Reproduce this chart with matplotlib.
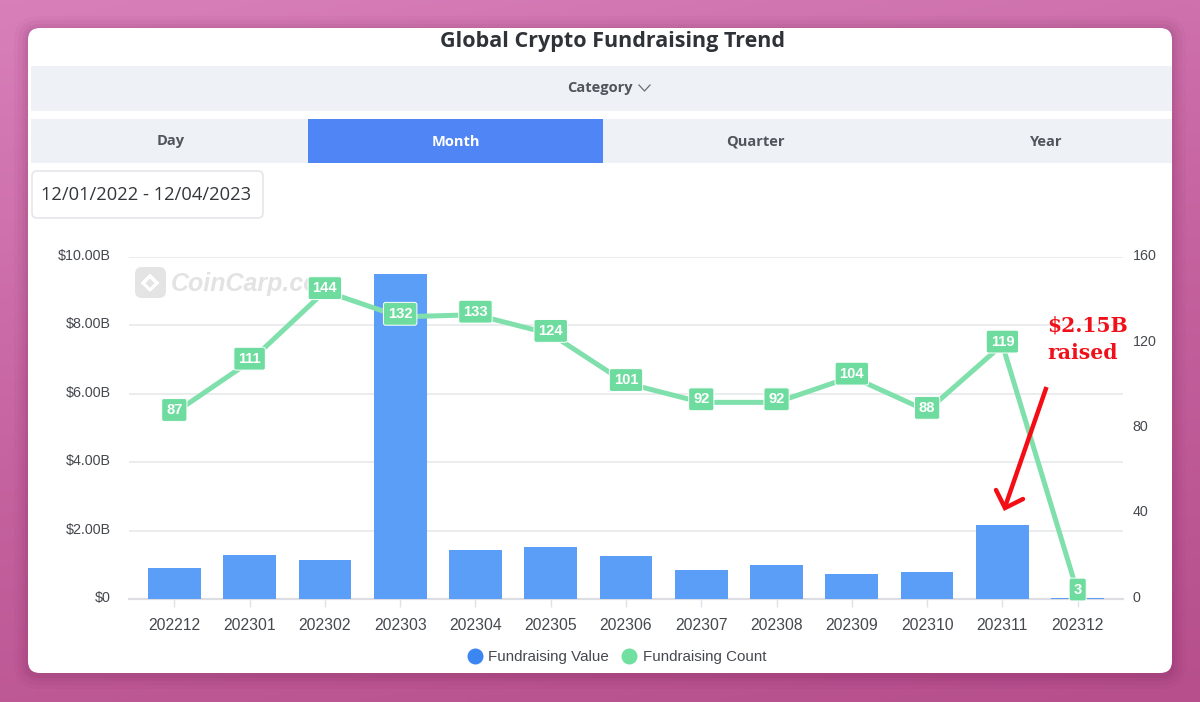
import numpy as np
import matplotlib
matplotlib.use("Agg")
import matplotlib.pyplot as plt
from matplotlib.colors import LinearSegmentedColormap
from matplotlib.lines import Line2D
from matplotlib.patches import FancyBboxPatch, Rectangle
from matplotlib.transforms import ScaledTranslation

months = ["202212", "202301", "202302", "202303", "202304", "202305", "202306",
          "202307", "202308", "202309", "202310", "202311", "202312"]
fund_value = [0.91, 1.29, 1.14, 9.49, 1.43, 1.52, 1.26, 0.85, 0.99, 0.73, 0.79, 2.15, 0.03]
fund_count = [87, 111, 144, 132, 133, 124, 101, 92, 92, 104, 88, 119, 3]
value_ticks = [0, 2, 4, 6, 8, 10]
value_labels = ["$0", "$2.00B", "$4.00B", "$6.00B", "$8.00B", "$10.00B"]
count_ticks = [0, 40, 80, 120, 160]
tabs = ["Day", "Month", "Quarter", "Year"]

W, H = 1200, 702
UI_FONT = ["Open Sans", "DejaVu Sans"]
plt.rcParams["font.family"] = ["Liberation Sans", "DejaVu Sans"]

fig = plt.figure(figsize=(W / 100, H / 100), dpi=100)

# page background and card, in pixel coordinates
bg = fig.add_axes([0, 0, 1, 1], zorder=0)
bg.set_xlim(0, W)
bg.set_ylim(H, 0)
bg.axis("off")

yy, xx = np.mgrid[0:1:200j, 0:1:200j]
grad = 0.75 * yy + 0.25 * xx
pink = LinearSegmentedColormap.from_list("pink_bg", ["#d87fba", "#c5639f", "#b64f8c"])
bg.imshow(grad, extent=[0, W, H, 0], cmap=pink, aspect="auto", zorder=0)
bg.set_xlim(0, W)
bg.set_ylim(H, 0)


def round_box(x0, y0, x1, y1, r, **kw):
    box = FancyBboxPatch((x0 + r, y0 + r), x1 - x0 - 2 * r, y1 - y0 - 2 * r,
                         boxstyle=f"round,pad={r},rounding_size={r}", **kw)
    bg.add_patch(box)


# soft shadow round the card
for grow, alpha in [(14, 0.03), (10, 0.04), (6, 0.05), (3, 0.06)]:
    round_box(28 - grow, 28 - grow + 2, 1172 + grow, 673 + grow + 2, 12 + grow,
              facecolor="#601040", edgecolor="none", alpha=alpha, zorder=1)
round_box(28, 28, 1172, 673, 12, facecolor="white", edgecolor="none", zorder=2)

bg.text(613, 41, "Global Crypto Fundraising Trend", ha="center", va="center",
        fontsize=15.5, fontweight="bold", color="#2f3237", family=UI_FONT, zorder=5)

bg.add_patch(Rectangle((31, 66), 1141, 45, facecolor="#eef1f6", edgecolor="none", zorder=3))
bg.text(600, 88, "Category", ha="center", va="center", fontsize=10.5, fontweight="bold",
        color="#50545b", family=UI_FONT, zorder=5)
bg.plot([639, 644.5, 650], [85, 91, 85], color="#6a6e75", lw=0.9, zorder=5)

bg.add_patch(Rectangle((31, 119), 1141, 44, facecolor="#eef1f6", edgecolor="none", zorder=3))
bg.add_patch(Rectangle((308, 119), 295, 44, facecolor="#4f85f5", edgecolor="none", zorder=4))
for name, cx in zip(tabs, [171, 456, 755, 1046]):
    bg.text(cx, 140, name, ha="center", va="center_baseline", fontsize=10.5, fontweight="bold",
            color="white" if name == "Month" else "#50545b", family=UI_FONT, zorder=5)

round_box(32, 171, 263, 218, 5, facecolor="white", edgecolor="#e4e6ea", lw=1.2, zorder=3)
bg.text(41, 195, "12/01/2022 - 12/04/2023", ha="left", va="center", fontsize=13.2,
        color="#33363b", family=UI_FONT, zorder=5)

# watermark
round_box(135, 267, 166, 298, 7, facecolor="#e4e4e4", edgecolor="none", zorder=3)
bg.plot([143, 150, 143, 150, 157, 150, 157], [283, 276, 283, 290, 283, 276, 283],
        color="white", lw=2.2, zorder=4)
bg.text(171, 284, "CoinCarp.co", ha="left", va="center", fontsize=18, fontweight="bold",
        style="italic", color="#e3e3e3", zorder=4)

# chart area: x 129-1123, y 257-599 px, categories 75.28 px apart
PX_LEFT, PX_RIGHT, PX_TOP, PX_BOTTOM = 129, 1123, 257, 599
ax = fig.add_axes([PX_LEFT / W, 1 - PX_BOTTOM / H, (PX_RIGHT - PX_LEFT) / W,
                   (PX_BOTTOM - PX_TOP) / H], zorder=2)
ax.patch.set_alpha(0)
x = np.arange(len(months))
ax.set_axisbelow(True)
ax.grid(axis="y", color="#e6e7ea", lw=1.1)
ax.bar(x, fund_value, width=0.7, color="#5b9ef7", zorder=2.6)
ax.set_xlim(-0.602, 12.602)
ax.set_ylim(0, 10)
ax.set_xticks(x, months)
ax.set_yticks(value_ticks, value_labels)
ax.tick_params(axis="x", length=6, width=1, color="#dfe1e6", labelsize=11.3,
               labelcolor="#45484d", pad=8)
ax.tick_params(axis="y", length=0, labelsize=10.3, labelcolor="#45484d", pad=13)
for side in ["top", "left", "right"]:
    ax.spines[side].set_visible(False)
ax.spines["bottom"].set_color("#dcdee3")
ax.spines["bottom"].set_linewidth(1.6)

ax2 = ax.twinx()
ax2.set_zorder(ax.get_zorder() + 1)
ax2.patch.set_alpha(0)
ax2.plot(x, fund_count, color="#7fe0ac", lw=3.6, solid_joinstyle="miter", zorder=3)
ax2.set_ylim(0, 160)
ax2.set_yticks(count_ticks)
ax2.tick_params(axis="y", length=0, labelsize=10.3, labelcolor="#45484d", pad=7)
for spine in ax2.spines.values():
    spine.set_visible(False)

for xi, c in zip(x, fund_count):
    ax2.annotate(str(c), (xi, c), xytext=(0, 2.2), textcoords="offset points",
                 ha="center", va="center", fontsize=10.6, fontweight="bold", color="white",
                 bbox=dict(boxstyle="round,pad=0.3,rounding_size=0.15", facecolor="#6fdc9f",
                           edgecolor="white", lw=0.7), zorder=6)

# axis labels sit a little above their gridlines
shift = ScaledTranslation(0, 1.8 / 72, fig.dpi_scale_trans)
for lab in list(ax.get_yticklabels()) + list(ax2.get_yticklabels()):
    lab.set_transform(lab.get_transform() + shift)

legend_handles = [
    Line2D([], [], marker="o", ls="none", ms=10.5, color="#3b86f0", label="Fundraising Value"),
    Line2D([], [], marker="o", ls="none", ms=10.5, color="#6fe0a0", label="Fundraising Count"),
]
fig.legend(handles=legend_handles, loc="center", bbox_to_anchor=(613 / W, 1 - 657.5 / H), ncol=2,
           frameon=False, fontsize=10.9, labelcolor="#45484d", handletextpad=-0.1,
           columnspacing=0.35, borderpad=0)

# hand drawn red note on top of everything
note = fig.add_axes([0, 0, 1, 1], zorder=5)
note.set_xlim(0, W)
note.set_ylim(H, 0)
note.axis("off")
note.text(1047, 326, "$2.15B", ha="left", va="center", fontsize=14.7, fontweight="bold",
          color="#f0101a", parse_math=False, family=["DejaVu Serif"])
note.text(1047, 353, "raised", ha="left", va="center", fontsize=14.7, fontweight="bold",
          color="#f0101a", family=["DejaVu Serif"])
note.plot([1046.5, 1005], [387, 507], color="#f40d14", lw=3.2, solid_capstyle="butt")
note.plot([996, 1005, 1023], [490, 508, 499], color="#f40d14", lw=3.2,
          solid_joinstyle="miter", solid_capstyle="round")

fig.savefig("out.png", dpi=100)
